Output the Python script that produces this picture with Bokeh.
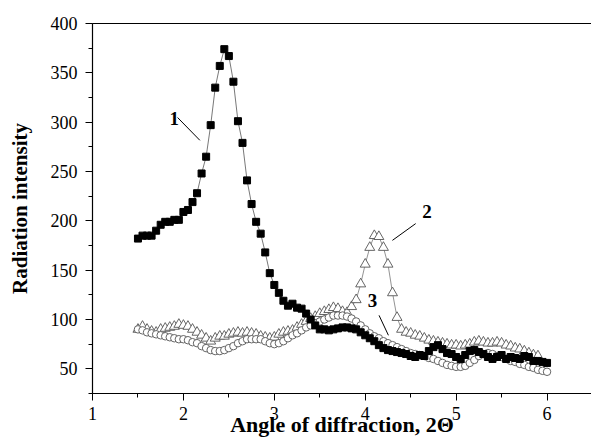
from bokeh.plotting import figure
from bokeh.models import Range1d, SingleIntervalTicker, FixedTicker, LinearAxis, Label
from bokeh.embed import file_html
from bokeh.resources import INLINE

# ---- data ----
angle = [1.50, 1.55, 1.60, 1.65, 1.70, 1.75, 1.80, 1.85, 1.90, 1.95,
         2.00, 2.05, 2.10, 2.15, 2.20, 2.25, 2.30, 2.35, 2.40, 2.45,
         2.50, 2.55, 2.60, 2.65, 2.70, 2.75, 2.80, 2.85, 2.90, 2.95,
         3.00, 3.05, 3.10, 3.15, 3.20, 3.25, 3.30, 3.35, 3.40, 3.45,
         3.50, 3.55, 3.60, 3.65, 3.70, 3.75, 3.80, 3.85, 3.90, 3.95,
         4.00, 4.05, 4.10, 4.15, 4.20, 4.25, 4.30, 4.35, 4.40, 4.45,
         4.50, 4.55, 4.60, 4.65, 4.70, 4.75, 4.80, 4.85, 4.90, 4.95,
         5.00, 5.05, 5.10, 5.15, 5.20, 5.25, 5.30, 5.35, 5.40, 5.45,
         5.50, 5.55, 5.60, 5.65, 5.70, 5.75, 5.80, 5.85, 5.90, 5.95, 6.00]

series1 = [182, 185, 185, 185, 190, 196, 199, 199, 201, 201,
           209, 211, 219, 228, 248, 265, 297, 335, 357, 374,
           367, 341, 301, 279, 241, 217, 199, 187, 168, 147,
           135, 127, 119, 114, 116, 112, 111, 106, 100, 94,
           90, 90, 89, 90, 91, 92, 92, 91, 90, 87,
           84, 81, 78, 74, 71, 69, 68, 67, 66, 65,
           63, 62, 64, 63, 68, 72, 74, 70, 66, 65,
           62, 60, 64, 68, 69, 67, 65, 62, 60, 62,
           64, 60, 62, 61, 60, 63, 62, 58, 58, 57, 56]

series2 = [90, 93, 90, 88, 87, 90, 91, 92, 93, 95,
           94, 93, 90, 87, 84, 81, 78, 81, 83, 83,
           85, 86, 87, 86, 87, 86, 85, 83, 82, 81,
           82, 85, 87, 88, 89, 92, 95, 98, 101, 103,
           106, 108, 110, 112, 111, 108, 107, 113, 120, 136,
           156, 173, 185, 184, 173, 156, 127, 102, 90, 87,
           86, 84, 83, 81, 79, 78, 77, 76, 75, 74,
           74, 73, 74, 75, 77, 78, 77, 76, 76, 77,
           76, 74, 73, 71, 70, 68, 66, 64, 63]
angle2 = angle[:len(series2)]

series3 = [90, 89, 87, 86, 85, 84, 83, 82, 81, 80,
           80, 79, 77, 76, 73, 71, 69, 68, 68, 69,
           71, 73, 76, 78, 80, 80, 80, 80, 78, 76,
           75, 76, 78, 81, 84, 86, 89, 92, 94, 96,
           98, 100, 102, 104, 104, 104, 103, 101, 98, 94,
           90, 86, 83, 81, 78, 76, 74, 72, 70, 68,
           66, 65, 64, 63, 61, 60, 58, 56, 54, 53,
           52, 52, 53, 56, 59, 63, 65, 66, 65, 63,
           62, 60, 58, 57, 55, 54, 52, 51, 49, 48, 47]

curve_labels = ["1", "2", "3"]
x_title = "Angle of diffraction, 2\u0398"
y_title = "Radiation intensity"

FONT = "Liberation Serif"

p = figure(width=591, height=439, output_backend="svg", toolbar_location=None,
           x_range=Range1d(1, 6.489), y_range=Range1d(25, 400),
           x_axis_location=None, y_axis_location=None,
           min_border_left=92, min_border_right=0, min_border_top=23, min_border_bottom=46)
p.outline_line_color = None
p.grid.visible = False
p.background_fill_color = "white"
p.border_fill_color = "white"

def style_axis(ax, interval):
    ax.ticker = SingleIntervalTicker(interval=interval, num_minor_ticks=2)
    ax.axis_line_color = "black"
    ax.axis_line_width = 1.2
    ax.major_tick_line_color = "black"
    ax.minor_tick_line_color = "black"
    ax.major_tick_in = 0
    ax.major_tick_out = 7
    ax.minor_tick_in = 0
    ax.minor_tick_out = 4
    ax.major_label_text_font = FONT
    ax.major_label_text_font_size = "18px"
    ax.major_label_text_color = "black"
    ax.axis_label_text_font = FONT
    ax.axis_label_text_font_size = "21px"
    ax.axis_label_text_font_style = "bold"
    ax.axis_label_text_color = "black"

xa = LinearAxis(axis_label=x_title)
style_axis(xa, 1)
xa.axis_label_text_font_size = "22px"
xa.major_label_standoff = 6
xa.axis_label_standoff = -11
p.add_layout(xa, "below")

ya = LinearAxis(axis_label=y_title)
style_axis(ya, 50)
ya.major_label_standoff = 8
ya.axis_label_standoff = 16
p.add_layout(ya, "left")

top = LinearAxis(ticker=FixedTicker(ticks=[]))
top.axis_line_color = "black"
top.axis_line_width = 1.2
top.major_tick_line_color = None
top.minor_tick_line_color = None
p.add_layout(top, "above")

# series 2 (triangles)
p.line(angle2, series2, line_color="#777777", line_width=0.8)
p.scatter(angle2, series2, marker="triangle", size=10, fill_color="white",
          line_color="#555555", line_width=0.9)
# series 3 (circles)
p.line(angle, series3, line_color="#888888", line_width=0.8)
p.scatter(angle, series3, marker="circle", size=7.5, fill_color="white",
          line_color="#555555", line_width=0.9)
# series 1 (squares)
p.line(angle, series1, line_color="#555555", line_width=0.8)
p.scatter(angle, series1, marker="square", size=7, fill_color="black",
          line_color="black")

# curve labels with leader lines
label_pos = [(1.90, 304), (4.68, 209), (4.08, 119)]
leaders = [((1.936, 304.7), (2.181, 281.6)),
           ((4.555, 197.2), (4.299, 180.2)),
           ((4.152, 104.2), (4.255, 84.0))]
for txt, (lx, ly) in zip(curve_labels, label_pos):
    p.add_layout(Label(x=lx, y=ly, text=txt, text_font=FONT, text_font_size="19px",
                       text_font_style="bold", text_align="center",
                       text_baseline="middle", text_color="black"))
p.segment(x0=[a[0] for a, b in leaders], y0=[a[1] for a, b in leaders],
          x1=[b[0] for a, b in leaders], y1=[b[1] for a, b in leaders],
          line_color="black", line_width=1)

open("out.html", "w").write(file_html(p, INLINE))
